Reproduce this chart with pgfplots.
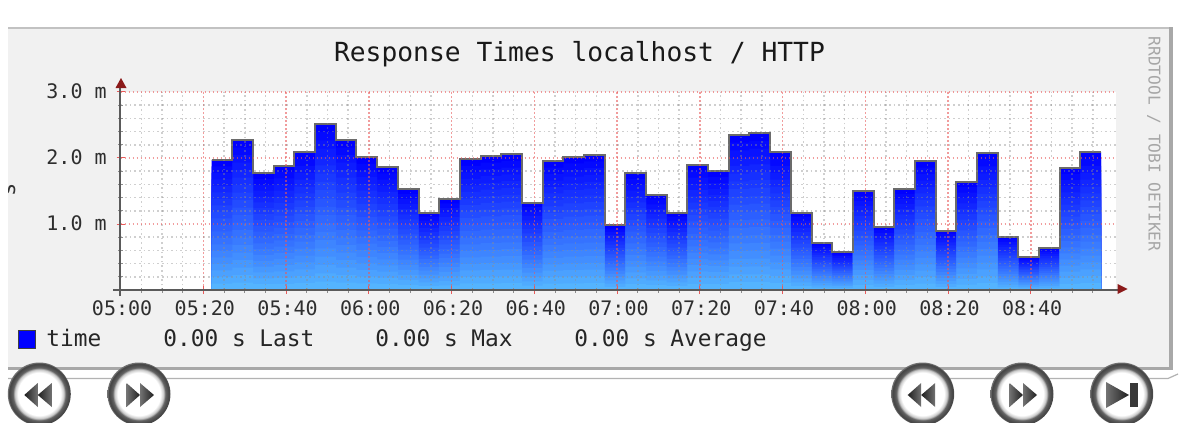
\documentclass[border=0pt]{standalone}
\usepackage{pgfplots}
\pgfplotsset{compat=1.18}
\usepackage{pgfplotstable}
\usepackage{fontspec}
\setmainfont{DejaVu Sans Mono}
\setmonofont{DejaVu Sans Mono}
\definecolor{panel}{HTML}{F1F1F1}
\definecolor{rrdtop}{HTML}{0000FF}
\definecolor{rrdbot}{HTML}{58BEFF}
\definecolor{arrowred}{HTML}{8B1A1A}
\definecolor{axisgray}{HTML}{5A5A5A}
\definecolor{edgegray}{HTML}{A8A8A8}
\definecolor{gridmajor}{HTML}{E85A5A}
\definecolor{gridminor}{HTML}{8E8E8E}
\pgfdeclareradialshading{btn}{\pgfpoint{0bp}{0bp}}{%
  color(0bp)=(white); color(17bp)=(white); color(19.5bp)=(black!22);
  color(21bp)=(black!62); color(24bp)=(black!74); color(25bp)=(black!55); color(50bp)=(black!55)}
\pgfplotstableread{
t v
22 1.97
27 2.27
32 1.77
37 1.88
42 2.09
47 2.52
52 2.27
57 2.01
62 1.86
67 1.53
72 1.17
77 1.38
82 1.98
87 2.03
92 2.06
97 1.32
102 1.95
107 2.02
112 2.05
117 0.98
122 1.77
127 1.44
132 1.17
137 1.89
142 1.80
147 2.35
152 2.38
157 2.09
162 1.17
167 0.71
172 0.57
177 1.50
182 0.96
187 1.53
192 1.95
197 0.90
202 1.64
207 2.08
212 0.81
217 0.50
222 0.64
227 1.85
232 2.09
237 2.09
}\rrddata
\begin{document}
\begin{tikzpicture}
\begin{scope}[x=0.5pt,y=-0.5pt]
\path[use as bounding box] (0,0) rectangle (1180,423);
\fill[white] (0,0) rectangle (1180,423);
\fill[panel] (8,27) rectangle (1171,368);
\draw[edgegray!70, line width=1.2pt] (8,28) -- (1171,28);
\draw[edgegray, line width=1.8pt] (1171,27) -- (1171,368.5) -- (8,368.5);
\draw[black!30, line width=0.6pt] (8,378.5) -- (1168,378.5) -- (1178,374);
\begin{scope}
\clip (8,170) rectangle (30,210);
\node[rotate=90, font=\fontsize{11}{12}\selectfont, text=black!80] at (9,190) {s};
\end{scope}
\end{scope}
\begin{axis}[
  at={(60.35pt,-145pt)}, anchor=south west,
  scale only axis, width=497.65pt, height=99pt,
  xmin=0, xmax=240.6, ymin=0, ymax=3,
  axis on top,
  axis background/.style={fill=white},
  axis line style={draw=none},
  tick pos=left,
  xtick={0,20,40,60,80,100,120,140,160,180,200,220},
  xticklabels={05:00,05:20,05:40,06:00,06:20,06:40,07:00,07:20,07:40,08:00,08:20,08:40},
  minor xtick={5,10,15,25,30,35,45,50,55,65,70,75,85,90,95,105,110,115,125,130,135,145,150,155,165,170,175,185,190,195,205,210,215,225,230,235},
  ytick={1,2,3},
  yticklabels={1.0 m,2.0 m,3.0 m},
  minor ytick={0.2,0.4,0.6,0.8,1.2,1.4,1.6,1.8,2.2,2.4,2.6,2.8},
  grid=both,
  major grid style={draw=gridmajor, opacity=0.6, line width=0.75pt, dash pattern=on 0.8pt off 1.2pt},
  minor grid style={draw=gridminor, opacity=0.42, line width=0.75pt, dash pattern=on 0.8pt off 1.5pt},
  tick align=center,
  major tick length=4pt, minor tick length=2.5pt,
  major tick style={draw=gridmajor, line width=0.5pt},
  minor tick style={draw=black!45, line width=0.4pt},
  tick label style={font=\fontsize{10}{12}\selectfont, text=black!82},
  xticklabel style={yshift=0pt, xshift=0.7pt},
  yticklabel style={xshift=-1.5pt, yshift=0.4pt},
]
\pgfplotsinvokeforeach{100,95,...,5}{
  \addplot[const plot, draw=none, fill=rrdtop!#1!rrdbot]
    table[x=t, y expr=\thisrow{v}*#1/100] {\rrddata} \closedcycle;
}
\addplot[const plot, draw=black!58, line width=1pt]
  table[x=t, y=v] {\rrddata};
\end{axis}
\begin{scope}[x=0.5pt,y=-0.5pt]
\draw[axisgray, line width=0.7pt] (120,296) -- (120,84);
\draw[axisgray, line width=0.7pt] (113,290) -- (1120,290);
\fill[arrowred] (121,78) -- (115.5,88) -- (126.5,88) -- cycle;
\fill[arrowred] (1127.5,289) -- (1117.5,284) -- (1117.5,294) -- cycle;
\node[font=\fontsize{13.15}{16}\selectfont, text=black!90] at (579.5,54) {Response Times localhost / HTTP};
\node[rotate=-90, font=\fontsize{8.1}{10}\selectfont, text=black!35] at (1154,144) {RRDTOOL / TOBI OETIKER};
\draw[black!75, fill=rrdtop, line width=0.5pt] (18.5,330.5) rectangle (35,348.5);
\node[inner sep=0pt, anchor=base west, font=\fontsize{11.4}{13}\selectfont, text=black!85] at (46,346) {time};
\node[inner sep=0pt, anchor=base west, font=\fontsize{11.4}{13}\selectfont, text=black!85] at (163,346) {0.00 s Last};
\node[inner sep=0pt, anchor=base west, font=\fontsize{11.4}{13}\selectfont, text=black!85] at (375,346) {0.00 s Max};
\node[inner sep=0pt, anchor=base west, font=\fontsize{11.4}{13}\selectfont, text=black!85] at (574,346) {0.00 s Average};
\begin{scope}
\clip (0,0) rectangle (1180,423);
\foreach \cx in {39.3,139,922.7,1022,1121.7}{
  \shade[shading=btn] (\cx,394) circle (31.5);
}
\foreach \cx in {39.3,922.7}{
  \shade[left color=black!88, right color=black!55] (\cx-15,395) -- (\cx-1.5,383) -- (\cx-1.5,407) -- cycle;
  \shade[left color=black!88, right color=black!55] (\cx-1.5,395) -- (\cx+12.5,383) -- (\cx+12.5,407) -- cycle;
}
\foreach \cx in {139,1022}{
  \shade[left color=black!55, right color=black!88] (\cx-12.5,383) -- (\cx+1,395) -- (\cx-12.5,407) -- cycle;
  \shade[left color=black!55, right color=black!88] (\cx+1,383) -- (\cx+15,395) -- (\cx+1,407) -- cycle;
}
\shade[left color=black!55, right color=black!88] (1106,382) -- (1129,395) -- (1106,408) -- cycle;
\fill[black!78] (1130,383) rectangle (1137.5,407);
\end{scope}
\end{scope}
\end{tikzpicture}
\end{document}
